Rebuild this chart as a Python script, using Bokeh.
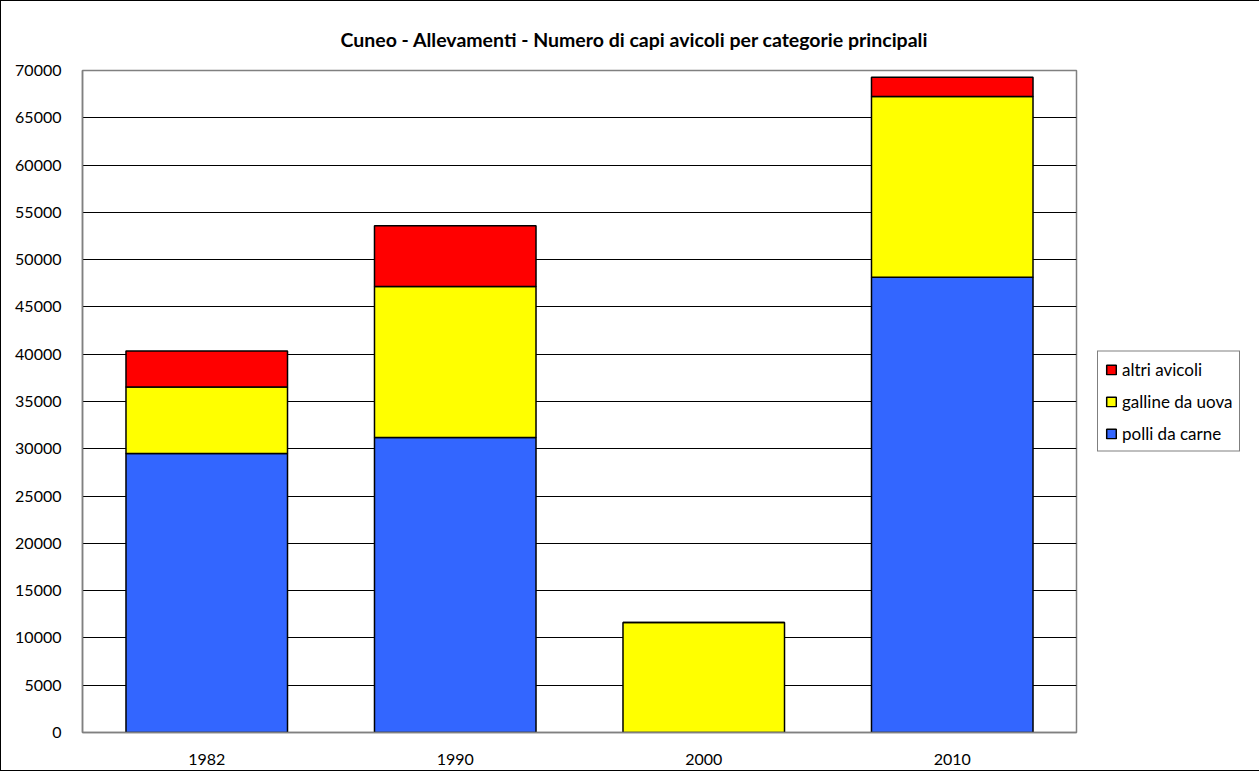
from bokeh.plotting import figure
from bokeh.models import FactorRange, Range1d, Legend, LegendItem, Title, SingleIntervalTicker, NumeralTickFormatter
from bokeh.embed import file_html
from bokeh.resources import INLINE

years = ["1982", "1990", "2000", "2010"]
polli = [29500, 31200, 0, 48140]
galline = [7030, 15960, 11630, 19110]
altri = [3800, 6420, 0, 2040]
series = ["polli", "galline", "altri"]
labels = {"polli": "polli da carne", "galline": "galline da uova", "altri": "altri avicoli"}
colors = ["#3366FF", "#FFFF00", "#FF0000"]
FONT = "Lato"

data = {"years": years, "polli": polli, "galline": galline, "altri": altri}

p = figure(x_range=FactorRange(*years), y_range=Range1d(0, 70000),
           frame_width=994, frame_height=662, output_backend="svg", toolbar_location=None,
           min_border_left=81, min_border_right=0, min_border_top=69, min_border_bottom=38,
           background_fill_color="white", border_fill_color="white")
p.styles = {"border": "1px solid #000000"}

p.title = Title(text="Cuneo - Allevamenti - Numero di capi avicoli per categorie principali",
                align="left", offset=258, text_font=FONT, text_font_style="bold",
                text_font_size="19.5px", text_color="black", standoff=40)

rs = p.vbar_stack(series, x="years", width=0.65, source=data, color=colors,
                  line_color="black", line_width=1.5)

p.xgrid.grid_line_color = None
p.ygrid.grid_line_color = "black"
p.ygrid.grid_line_width = 1
p.outline_line_color = "#808080"
p.outline_line_width = 1.5

p.yaxis.ticker = SingleIntervalTicker(interval=5000)
p.yaxis.formatter = NumeralTickFormatter(format="0")
for ax in (p.xaxis[0], p.yaxis[0]):
    ax.axis_line_color = "#808080"
    ax.axis_line_width = 1.5
    ax.major_tick_line_color = None
    ax.minor_tick_line_color = None
    ax.major_label_text_font = FONT
    ax.major_label_text_font_size = "16px"
    ax.major_label_text_color = "black"
p.yaxis.major_label_standoff = 15
p.xaxis.major_label_standoff = 15

items = [LegendItem(label=labels[s], renderers=[r]) for s, r in zip(series, rs)][::-1]
legend = Legend(items=items, location="center_left", orientation="vertical",
                label_text_font=FONT, label_text_font_size="17px", label_text_color="black",
                glyph_width=12, glyph_height=12, label_height=20, spacing=11,
                label_standoff=5, padding=7, margin=21,
                border_line_color="black", border_line_width=1,
                background_fill_color="white", background_fill_alpha=1)
p.add_layout(legend, "right")

open("out.html", "w").write(file_html(p, INLINE))
